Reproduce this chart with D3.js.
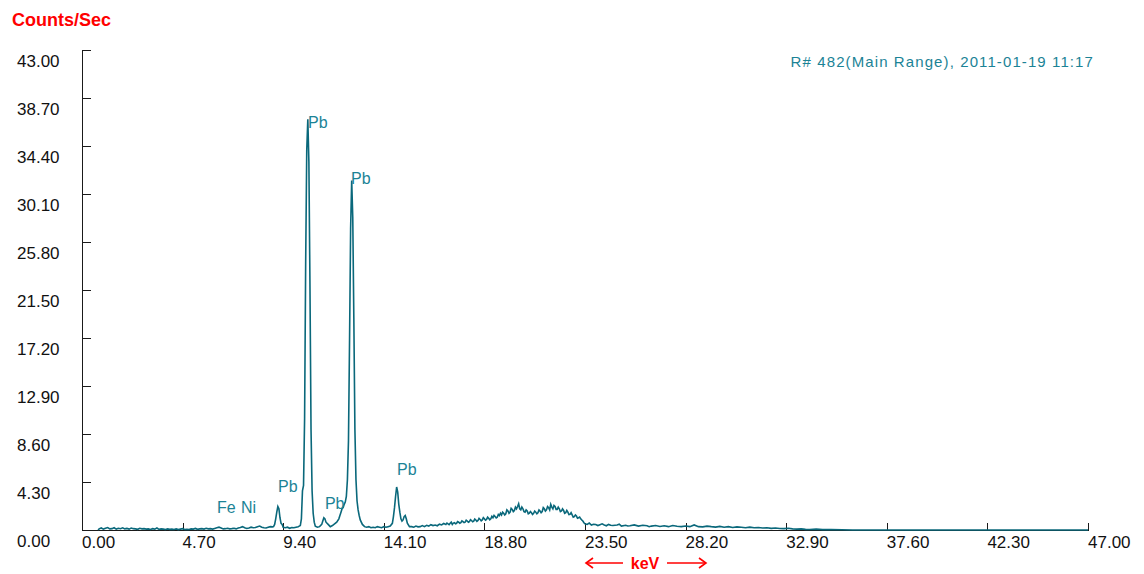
<!DOCTYPE html>
<html>
<head>
<meta charset="utf-8">
<script src="https://cdn.jsdelivr.net/npm/d3@7/dist/d3.min.js"></script>
<style>
  html, body { margin: 0; padding: 0; background: #fff; }
  svg { display: block; }
  text { font-family: "Liberation Sans", Arial, sans-serif; }
</style>
</head>
<body>
<svg id="chart" width="1144" height="574"></svg>
<script>
// ---------- data ----------
const yTickValues = [0, 4.3, 8.6, 12.9, 17.2, 21.5, 25.8, 30.1, 34.4, 38.7, 43.0];
const xTickValues = [0, 4.7, 9.4, 14.1, 18.8, 23.5, 28.2, 32.9, 37.6, 42.3, 47.0];
const titleText = "Counts/Sec";
const xUnitText = "keV";
const runInfo = "R# 482(Main Range), 2011-01-19 11:17";

// spectrum: [keV, counts/sec]
const spectrum = [
  [0.75,0.00],[0.8,0.10],[0.9,0.18],[1.0,0.08],[1.1,0.15],[1.2,0.22],[1.3,0.10],[1.4,0.12],[1.5,0.20],[1.6,0.08],[1.7,0.16],[1.8,0.12],[1.9,0.20],[2.0,0.10],
  [2.1,0.14],[2.2,0.08],[2.3,0.18],[2.4,0.12],[2.5,0.10],[2.6,0.06],[2.7,0.15],[2.8,0.10],[2.9,0.12],[3.0,0.08],
  [3.1,0.10],[3.2,0.05],[3.3,0.12],[3.4,0.08],[3.5,0.18],[3.6,0.06],[3.7,0.10],[3.8,0.08],[3.9,0.05],[4.0,0.10],
  [4.1,0.06],[4.2,0.08],[4.3,0.05],[4.4,0.10],[4.5,0.04],[4.6,0.08],[4.7,0.12],[4.8,0.05],[4.9,0.06],[5.0,0.04],
  [5.1,0.10],[5.2,0.08],[5.3,0.14],[5.4,0.06],[5.5,0.10],[5.6,0.12],[5.7,0.08],[5.8,0.15],[5.9,0.10],[6.0,0.12],
  [6.1,0.08],[6.2,0.14],[6.3,0.20],[6.4,0.25],[6.5,0.18],[6.6,0.10],[6.7,0.12],[6.8,0.16],[6.9,0.10],[7.0,0.12],
  [7.1,0.15],[7.2,0.10],[7.3,0.18],[7.4,0.22],[7.5,0.30],[7.6,0.20],[7.7,0.14],[7.8,0.18],[7.9,0.25],[8.0,0.20],
  [8.1,0.22],[8.2,0.30],[8.3,0.35],[8.4,0.25],[8.5,0.20],[8.6,0.18],[8.7,0.25],[8.8,0.30],[8.9,0.28],
  [8.95,0.30],[9.0,0.50],[9.05,1.00],[9.1,1.60],[9.15,2.10],[9.2,1.90],[9.25,1.10],[9.3,0.60],[9.35,0.50],[9.4,0.25],
  [9.5,0.20],[9.6,0.25],[9.7,0.15],[9.8,0.22],[9.9,0.20],[10.0,0.25],[10.1,0.30],[10.15,0.35],[10.2,0.40],
  [10.25,1.00],[10.3,3.50],[10.35,4.00],[10.4,10.0],[10.45,24.0],[10.5,34.0],[10.55,36.8],[10.6,33.0],[10.65,22.0],[10.7,9.0],[10.75,3.5],[10.8,1.5],[10.85,0.7],[10.9,0.35],
  [11.0,0.25],[11.1,0.30],[11.2,0.50],[11.25,0.80],[11.3,1.10],[11.35,1.00],[11.4,0.70],[11.5,0.50],[11.6,0.30],[11.7,0.40],[11.8,0.55],[11.9,0.70],
  [12.0,1.00],[12.05,1.30],[12.1,1.60],[12.15,1.90],[12.2,2.00],[12.25,2.30],[12.3,2.50],[12.35,3.00],[12.4,4.50],[12.45,8.0],
  [12.5,17.0],[12.55,27.0],[12.6,31.3],[12.65,28.0],[12.7,19.0],[12.75,9.0],[12.8,4.5],[12.85,2.6],[12.9,1.8],[12.95,1.3],[13.0,0.9],
  [13.1,0.50],[13.2,0.30],[13.3,0.25],[13.4,0.30],[13.5,0.20],[13.6,0.25],[13.7,0.20],[13.8,0.30],[13.9,0.25],[14.0,0.20],[14.1,0.30],[14.2,0.25],[14.3,0.30],[14.4,0.35],
  [14.5,0.60],[14.55,1.20],[14.6,2.00],[14.65,3.00],[14.7,3.85],[14.75,3.40],[14.8,2.30],[14.85,1.60],[14.9,1.00],[14.95,0.80],[15.0,0.90],[15.05,1.20],[15.1,1.30],[15.15,1.00],[15.2,0.60],[15.3,0.30],
  [15.4,0.30],[15.5,0.25],[15.6,0.35],[15.7,0.28],[15.8,0.30],[15.9,0.40],[16.0,0.30],[16.1,0.42],[16.2,0.35],[16.3,0.48],[16.4,0.40],[16.5,0.45],[16.6,0.38],[16.7,0.52],[16.8,0.45],[16.9,0.58],
  [17.0,0.50],[17.05,0.62],[17.1,0.55],[17.15,0.48],[17.2,0.60],[17.25,0.70],[17.3,0.50],[17.35,0.62],[17.4,0.65],[17.45,0.55],[17.5,0.60],[17.55,0.75],[17.6,0.70],[17.65,0.60],[17.7,0.65],[17.75,0.82],
  [17.8,0.75],[17.85,0.66],[17.9,0.70],[17.95,0.88],[18.0,0.80],[18.05,0.70],[18.1,0.75],[18.15,0.92],[18.2,0.85],[18.25,0.74],[18.3,0.80],[18.35,0.98],[18.4,0.90],[18.45,0.78],[18.5,0.85],[18.55,1.05],
  [18.6,0.95],[18.65,0.82],[18.7,0.90],[18.75,1.10],[18.8,1.00],[18.85,0.88],[18.9,0.95],[18.95,1.15],[19.0,1.05],[19.05,0.92],[19.1,1.00],[19.15,1.22],[19.2,1.10],[19.25,1.30],[19.3,1.20],[19.35,1.08],
  [19.4,1.15],[19.45,1.40],[19.5,1.30],[19.55,1.50],[19.6,1.35],[19.65,1.60],[19.7,1.50],[19.75,1.35],[19.8,1.45],[19.85,1.80],[19.9,1.70],[19.95,1.50],[20.0,1.60],[20.05,1.95],[20.1,1.85],[20.15,1.65],
  [20.2,1.75],[20.25,2.05],[20.3,1.90],[20.35,2.10],[20.4,2.35],[20.45,1.90],[20.5,1.80],[20.55,2.05],[20.6,1.90],[20.65,1.65],[20.7,1.60],[20.75,1.80],[20.8,1.70],[20.85,1.45],[20.9,1.50],[20.95,1.65],
  [21.0,1.55],[21.05,1.40],[21.1,1.50],[21.15,1.70],[21.2,1.60],[21.25,1.45],[21.3,1.55],[21.35,1.80],[21.4,1.70],[21.45,1.55],[21.5,1.65],[21.55,2.00],[21.6,1.90],[21.65,1.70],[21.7,1.80],[21.75,2.10],
  [21.8,2.00],[21.85,1.80],[21.9,2.30],[21.95,2.05],[22.0,1.90],[22.05,2.20],[22.1,2.10],[22.15,1.85],[22.2,1.85],[22.25,2.05],[22.3,1.90],[22.35,1.65],[22.4,1.70],[22.45,1.90],[22.5,1.75],[22.55,1.50],
  [22.6,1.55],[22.65,1.75],[22.7,1.60],[22.75,1.38],[22.8,1.40],[22.85,1.55],[22.9,1.35],[22.95,1.15],[23.0,1.20],[23.05,1.35],[23.1,1.25],[23.15,1.05],[23.2,1.10],[23.25,1.15],[23.3,1.00],[23.35,0.90],
  [23.4,0.80],[23.45,0.65],[23.5,0.55],[23.6,0.50],[23.7,0.62],[23.8,0.45],[23.9,0.52],[24.0,0.50],[24.1,0.40],[24.2,0.48],[24.3,0.55],[24.4,0.45],[24.5,0.38],[24.6,0.50],[24.7,0.42],[24.8,0.40],
  [25.0,0.45],[25.1,0.52],[25.2,0.35],[25.4,0.42],[25.5,0.36],[25.6,0.38],[25.8,0.46],[26.0,0.35],[26.2,0.42],[26.4,0.38],[26.5,0.30],[26.6,0.35],[26.8,0.40],[27.0,0.32],[27.2,0.38],[27.4,0.30],
  [27.6,0.40],[27.8,0.33],[28.0,0.30],[28.2,0.36],[28.4,0.30],[28.6,0.45],[28.8,0.30],[29.0,0.28],[29.2,0.35],[29.4,0.30],[29.6,0.26],[29.8,0.32],[30.0,0.25],[30.2,0.30],[30.4,0.22],[30.6,0.28],
  [30.8,0.24],[31.0,0.20],[31.2,0.26],[31.4,0.20],[31.6,0.22],[31.8,0.18],[32.0,0.20],[32.2,0.15],[32.4,0.18],[32.6,0.14],[32.8,0.12],[33.0,0.15],[33.2,0.10],[33.4,0.08],[33.6,0.10],[33.8,0.06],
  [34.0,0.05],[34.3,0.08],[34.6,0.03],[35.0,0.04],[35.5,0.02],[36.0,0.00],[47.0,0.00]
];

// peak annotations: [label, keV, counts/sec] (anchor = left end of text baseline)
const peakLabels = [
  ["Fe", 6.31, 1.52],
  ["Ni", 7.43, 1.52],
  ["Pb", 9.16, 3.40],
  ["Pb", 10.56, 36.0],
  ["Pb", 11.35, 1.88],
  ["Pb", 12.57, 31.0],
  ["Pb", 14.72, 4.93]
];

// ---------- layout ----------
const svg = d3.select("#chart");
const W = 1144, H = 574;
const plot = { left: 82, right: 1088, top: 50, bottom: 530 };
const teal = "#0a687b";
const tealText = "#1b8396";
const red = "#ff0000";

svg.append("rect").attr("width", W).attr("height", H).attr("fill", "#fff");

const x = d3.scaleLinear().domain([0, 47]).range([plot.left, plot.right]);
const y = d3.scaleLinear().domain([0, 43]).range([plot.bottom, plot.top]);

// axes (lines + ticks)
const axes = svg.append("g").attr("stroke", "#1a1a1a").attr("stroke-width", 1).attr("shape-rendering", "crispEdges");
axes.append("line").attr("x1", x(0) + 0.5).attr("x2", x(0) + 0.5).attr("y1", y(43)).attr("y2", y(0) + 0.5);
axes.append("line").attr("x1", x(0)).attr("x2", x(47) + 1).attr("y1", y(0) + 0.5).attr("y2", y(0) + 0.5);
axes.selectAll(".yt").data(yTickValues).enter().append("line")
  .attr("x1", x(0)).attr("x2", x(0) + 9)
  .attr("y1", d => Math.round(y(d)) + 0.5).attr("y2", d => Math.round(y(d)) + 0.5);
axes.selectAll(".xt").data(xTickValues).enter().append("line")
  .attr("x1", d => Math.round(x(d)) + 0.5).attr("x2", d => Math.round(x(d)) + 0.5)
  .attr("y1", y(0)).attr("y2", y(0) - 7);

// tick labels
svg.selectAll(".ylab").data(yTickValues).enter().append("text")
  .attr("x", 17).attr("y", d => y(d) + 17)
  .attr("font-size", 17).attr("fill", "#111")
  .text(d => d.toFixed(2));
svg.selectAll(".xlab").data(xTickValues).enter().append("text")
  .attr("x", d => x(d)).attr("y", 548)
  .attr("font-size", 17).attr("fill", "#111")
  .text(d => d.toFixed(2));

// title
svg.append("text").attr("x", 12).attr("y", 26)
  .attr("font-size", 18).attr("font-weight", "bold").attr("fill", red)
  .text(titleText);

// keV unit with arrows
const kx = 645, ky = 563;
svg.append("text").attr("x", kx).attr("y", ky + 6).attr("text-anchor", "middle")
  .attr("font-size", 16).attr("font-weight", "bold").attr("fill", red).text(xUnitText);
const arr = svg.append("g").attr("stroke", red).attr("stroke-width", 1.6).attr("fill", "none");
arr.append("line").attr("x1", 586).attr("x2", 623).attr("y1", ky).attr("y2", ky);
arr.append("path").attr("d", `M593,${ky - 5}L586,${ky}L593,${ky + 5}`);
arr.append("line").attr("x1", 667).attr("x2", 706).attr("y1", ky).attr("y2", ky);
arr.append("path").attr("d", `M699,${ky - 5}L706,${ky}L699,${ky + 5}`);

// run info
svg.append("text").attr("x", 1094).attr("y", 67).attr("text-anchor", "end")
  .attr("font-size", 15).attr("letter-spacing", "1.1px").attr("fill", tealText)
  .text(runInfo);

// spectrum line
const line = d3.line().x(d => x(d[0])).y(d => y(d[1]));
svg.append("path").datum(spectrum)
  .attr("d", line).attr("fill", "none")
  .attr("stroke", teal).attr("stroke-width", 1.6).attr("stroke-linejoin", "miter");

// peak labels
svg.selectAll(".pk").data(peakLabels).enter().append("text")
  .attr("x", d => x(d[1])).attr("y", d => y(d[2]))
  .attr("font-size", 16).attr("fill", tealText)
  .text(d => d[0]);
</script>
</body>
</html>
